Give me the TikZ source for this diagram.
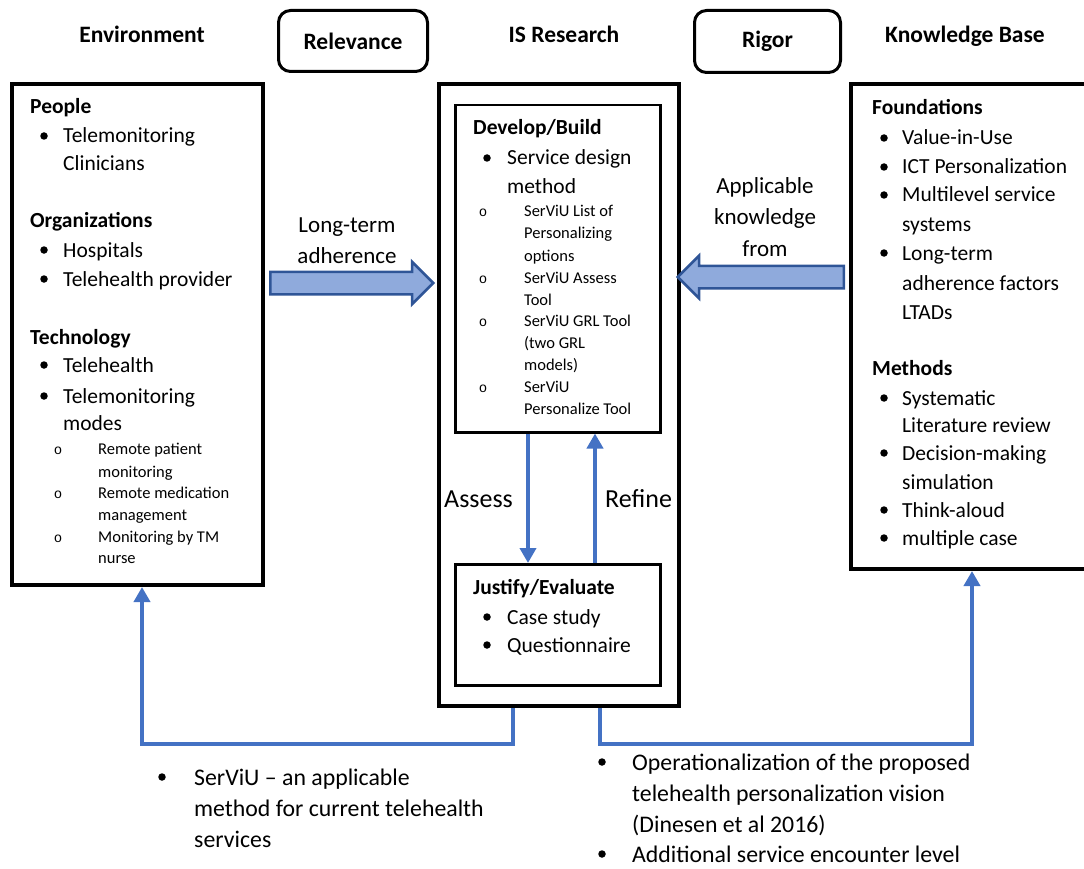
\documentclass[tikz,border=0pt]{standalone}
\usepackage{fontspec}
\setmainfont{Carlito}
\newfontfamily\monofnt{Liberation Mono}
\usetikzlibrary{arrows.meta,shapes.arrows,calc}
\definecolor{cblue}{HTML}{4472C4}
\definecolor{afill}{HTML}{8FAADC}
\definecolor{aedge}{HTML}{2F5597}
\newcommand\HD[4]{\node[hd] (#1) at (#2,#3+7) {#4};}
\newcommand\BU[5]{\node[bul] (#1b) at (#2,#4) {}; \node[tx] (#1) at (#3,#4+7) {#5};}
\newcommand\CT[4]{\node[tx] (#1) at (#2,#3+7) {#4};}
\newcommand\SB[5]{\node[circ] (#1b) at (#2,#4+5) {o}; \node[sm] (#1) at (#3,#4+5) {#5};}
\newcommand\ST[4]{\node[sm] (#1) at (#2,#3+5) {#4};}
\newcommand\BB[5]{\node[bul] (#1b) at (#2,#4) {}; \node[btx] (#1) at (#3,#4+8) {#5};}
\newcommand\BC[4]{\node[btx] (#1) at (#2,#3+8) {#4};}
\begin{document}
\begin{tikzpicture}[x=1pt,y=-1pt,
 hd/.style={font=\bfseries\fontsize{21.5}{26}\selectfont, anchor=base west, inner sep=0pt},
 tx/.style={font=\fontsize{21.5}{26}\selectfont, anchor=base west, inner sep=0pt},
 btx/.style={font=\fontsize{23.8}{28}\selectfont, anchor=base west, inner sep=0pt},
 sm/.style={font=\fontsize{16.5}{19}\selectfont, anchor=base west, inner sep=0pt},
 bul/.style={circle, fill, inner sep=0pt, minimum size=7.5pt},
 circ/.style={font=\monofnt\fontsize{14}{15}\selectfont, anchor=base, inner sep=0pt},
 toph/.style={font=\bfseries\fontsize{23.5}{28}\selectfont, anchor=base, inner sep=0pt},
 lbl/.style={font=\fontsize{23}{28}\selectfont, anchor=base, inner sep=0pt},
 biglbl/.style={font=\fontsize{26}{30}\selectfont, anchor=base west, inner sep=0pt},
 bigbox/.style={draw, line width=4pt, anchor=north west, inner sep=0pt},
 inbox/.style={draw, line width=2.5pt, anchor=north west, inner sep=0pt},
 rbox/.style={draw, line width=3pt, rounded corners=12pt, anchor=north west, inner sep=0pt, font=\bfseries\fontsize{23.5}{28}\selectfont},
 conn/.style={draw=cblue, line width=4pt},
 tipa/.style={-{Triangle[width=16pt,length=15pt]}},
 barrow/.style={single arrow, draw=aedge, fill=afill, line width=2.5pt, inner xsep=0pt, inner ysep=10pt, text height=0pt, text depth=0pt, single arrow head extend=10pt, single arrow tip angle=90, anchor=tail}
]
\useasboundingbox (0,0) rectangle (1084,869);

% top headings
\node[toph] (hEnv) at (142,43) {Environment};
\node[toph] (hIS) at (564,43) {IS Research};
\node[toph] (hKB) at (965,43) {Knowledge Base};
\node[rbox, minimum width=149, minimum height=61] (rel) at (277,9) {Relevance};
\node[rbox, minimum width=146, minimum height=62] (rig) at (693,9) {Rigor};

% boxes
\node[bigbox, minimum width=251, minimum height=501] (env) at (10,82) {};
\node[bigbox, minimum width=240, minimum height=622] (is) at (437,82) {};
\node[inbox, minimum width=205, minimum height=327] (dev) at (454,104) {};
\node[inbox, minimum width=205, minimum height=121] (jus) at (454,563) {};
\node[bigbox, minimum width=250, minimum height=485] (kb) at (849,82) {};

% Environment content
\HD{eP}{30}{107}{People}
\BU{eP1}{44}{63}{136}{Telemonitoring}
\CT{eP1c}{63}{164}{Clinicians}
\HD{eO}{30}{221}{Organizations}
\BU{eO1}{44}{63}{250}{Hospitals}
\BU{eO2}{44}{63}{279}{Telehealth provider}
\HD{eT}{30}{337}{Technology}
\BU{eT1}{44}{63}{365}{Telehealth}
\BU{eT2}{44}{63}{396}{Telemonitoring}
\CT{eT2c}{63}{423}{modes}
\SB{eS1}{58}{98}{449}{Remote patient}
\ST{eS1c}{98}{472}{monitoring}
\SB{eS2}{58}{98}{493}{Remote medication}
\ST{eS2c}{98}{515}{management}
\SB{eS3}{58}{98}{537}{Monitoring by TM}
\ST{eS3c}{98}{558}{nurse}

% Develop/Build content
\HD{dH}{473}{128}{Develop/Build}
\BU{d1}{487}{507}{158}{Service design}
\CT{d1c}{507}{187}{method}
\SB{dS1}{483}{524}{212}{SerViU List of}
\ST{dS1c}{524}{234}{Personalizing}
\ST{dS1d}{524}{256}{options}
\SB{dS2}{483}{524}{278}{SerViU Assess}
\ST{dS2c}{524}{300}{Tool}
\SB{dS3}{483}{524}{321}{SerViU GRL Tool}
\ST{dS3c}{524}{343}{(two GRL}
\ST{dS3d}{524}{365}{models)}
\SB{dS4}{483}{524}{387}{SerViU}
\ST{dS4c}{524}{409}{Personalize Tool}

% Justify/Evaluate content
\HD{jH}{473}{587}{Justify/Evaluate}
\BU{j1}{487}{507}{617}{Case study}
\BU{j2}{487}{507}{645}{Questionnaire}

% Knowledge base content
\HD{kF}{872}{108}{Foundations}
\BU{kF1}{884}{902}{138}{Value-in-Use}
\BU{kF2}{884}{902}{167}{ICT Personalization}
\BU{kF3}{884}{902}{195}{Multilevel service}
\CT{kF3c}{902}{225}{systems}
\BU{kF4}{884}{902}{253}{Long-term}
\CT{kF4c}{902}{283}{adherence factors}
\CT{kF4d}{902}{312}{LTADs}
\HD{kM}{872}{368}{Methods}
\BU{kM1}{884}{902}{398}{Systematic}
\CT{kM1c}{902}{425}{Literature review}
\BU{kM2}{884}{902}{453}{Decision-making}
\CT{kM2c}{902}{482}{simulation}
\BU{kM3}{884}{902}{510}{Think-aloud}
\BU{kM4}{884}{902}{538}{multiple case}

% block arrows
\node[barrow, minimum height=163] (ltA) at (269,283) {};
\node[barrow, minimum height=166, shape border rotate=180] (akA) at (845,277) {};
\node[lbl] (lt1) at (347,233) {Long-term};
\node[lbl] (lt2) at (347,263) {adherence};
\node[lbl] (ak1) at (765,194) {Applicable};
\node[lbl] (ak2) at (765,225) {knowledge};
\node[lbl] (ak3) at (765,256) {from};

% assess / refine
\draw[conn, tipa] ($(dev.south west)+(74,0)$) -- ($(jus.north west)+(74,0)$);
\draw[conn, tipa] ($(jus.north west)+(141,0)$) -- ($(dev.south west)+(141,0)$);
\node[biglbl] (assess) at (444,507) {Assess};
\node[biglbl] (refine) at (605,507) {Refine};

% bottom connectors
\coordinate (bl1) at ($(is.south west)+(76,36)$);
\coordinate (br1) at ($(is.south west)+(163,36)$);
\coordinate (envin) at ($(env.south west)+(132,0)$);
\coordinate (kbin) at ($(kb.south west)+(123,0)$);
\draw[conn, tipa] ($(is.south west)+(76,0)$) -- (bl1) -- (bl1 -| envin) -- (envin);
\draw[conn, tipa] ($(is.south west)+(163,0)$) -- (br1) -- (br1 -| kbin) -- (kbin);

% bottom texts
\BB{b1}{162}{194}{777}{SerViU – an applicable}
\BC{b1c}{194}{808}{method for current telehealth}
\BC{b1d}{194}{839}{services}
\BB{b2}{602}{632}{762}{Operationalization of the proposed}
\BC{b2c}{632}{793}{telehealth personalization vision}
\BC{b2d}{632}{824}{(Dinesen et al 2016)}
\BB{b3}{602}{632}{854}{Additional service encounter level}
\end{tikzpicture}
\end{document}
